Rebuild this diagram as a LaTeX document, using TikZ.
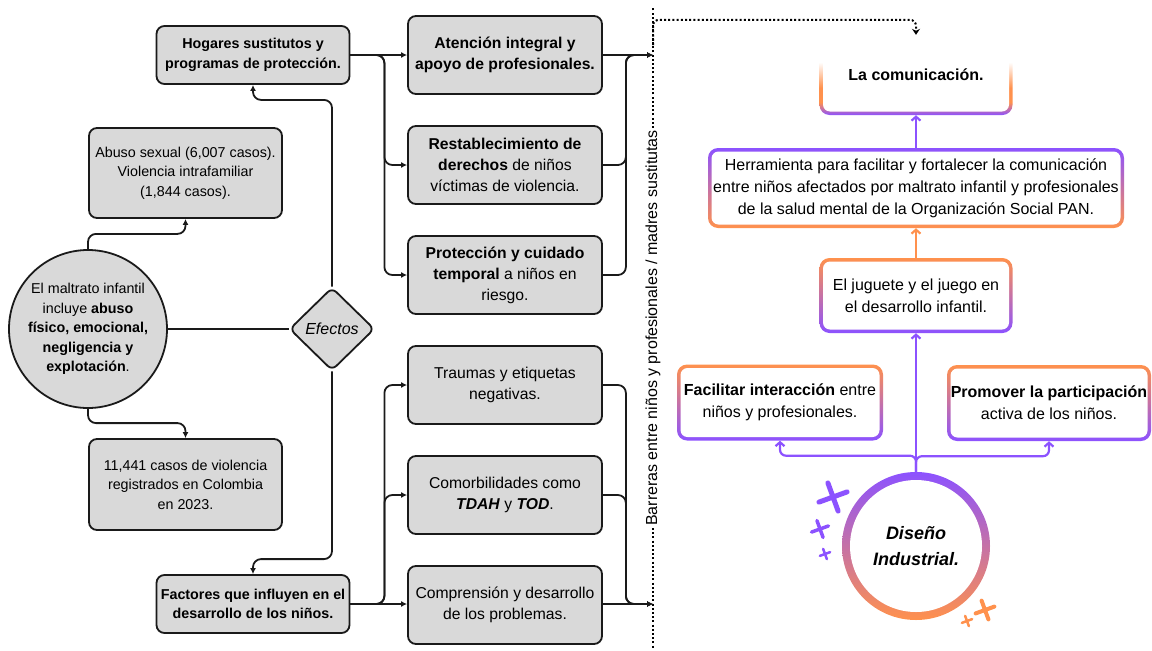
\documentclass[tikz,border=0pt]{standalone}
\usepackage{fontspec}
\setmainfont{Liberation Sans}
\usepackage{xcolor}
\usepackage{tikz}
\usetikzlibrary{arrows.meta,positioning,shapes.geometric,calc}
\definecolor{dipurple}{RGB}{140,82,255}
\definecolor{diorange}{RGB}{255,145,77}
\definecolor{boxgray}{RGB}{217,217,217}
\definecolor{inkgray}{RGB}{26,26,26}
\pgfdeclareverticalshading{comfade}{100bp}{color(0bp)=(dipurple); color(25bp)=(dipurple); color(33bp)=(diorange); color(42bp)=(diorange); color(58bp)=(white); color(100bp)=(white)}
\newcommand{\leftfs}{\fontsize{14.3}{19.5}\selectfont}
\newcommand{\midfs}{\fontsize{15.7}{21}\selectfont}
\newcommand{\rightfs}{\fontsize{16}{22}\selectfont}

\begin{document}
\begin{tikzpicture}[
x=1pt,y=-1pt,
node distance=30.2pt and 30pt,
lbox/.style={draw=inkgray,line width=1.8pt,fill=boxgray,rounded corners=8pt,align=center,inner sep=2pt,text=black,font=\leftfs,minimum width=193pt},
mbox/.style={lbox,font=\midfs,minimum width=194pt,minimum height=78pt},
gbox/.style={rounded corners=10pt,align=center,inner sep=3pt,text=black,font=\rightfs,
  path picture={\fill[white,rounded corners=7pt] ([shift={(3.5pt,-3.5pt)}]path picture bounding box.north west) rectangle ([shift={(-3.5pt,3.5pt)}]path picture bounding box.south east);}},
updown/.style={gbox,top color=diorange,bottom color=dipurple},
downup/.style={gbox,top color=dipurple,bottom color=diorange},
ring/.style={circle,top color=dipurple,bottom color=diorange,align=center,text=black,
  path picture={\fill[white] (path picture bounding box.center) circle (66pt);}},
arr/.style={-{Latex[length=6pt,width=6pt]},line width=1.8pt,draw=inkgray,rounded corners=8pt},
parr/.style={-{Straight Barb[length=4pt,width=9pt]},line width=2.2pt,draw=dipurple,rounded corners=6pt},
oarr/.style={parr,draw=diorange},
dotline/.style={line width=2pt,dash pattern=on 2pt off 2.2pt,draw=black}
]
\useasboundingbox (0,0) rectangle (1152,651);

% left column
\node[lbox,minimum height=58pt,font=\leftfs\bfseries] (hog) at (253,55) {Hogares sustitutos y\\programas de protección.};
\node[lbox,minimum height=90pt] (abu) at (185.5,173) {Abuso sexual (6,007 casos).\\Violencia intrafamiliar\\(1,844 casos).};
\node[lbox,circle,rounded corners=0pt,minimum size=158pt] (mal) at (88,329) {El maltrato infantil\\incluye \textbf{abuso}\\\textbf{físico, emocional,}\\\textbf{negligencia y}\\\textbf{explotación}.};
\node[lbox,minimum height=91pt] (cas) at (185.5,484.5) {11,441 casos de violencia\\registrados en Colombia\\en 2023.};
\node[lbox,minimum height=58pt,font=\leftfs\bfseries] (fac) at (253,604) {Factores que influyen en el\\desarrollo de los niños.};
\node[diamond,draw=inkgray,line width=1.8pt,fill=boxgray,rounded corners=6pt,minimum width=85pt,minimum height=83pt,inner sep=0pt,font=\fontsize{16}{19}\selectfont\itshape] (efe) at (332,329) {Efectos};

% middle column
\node[mbox,font=\midfs\bfseries] (ate) at (505,55) {Atención integral y\\apoyo de profesionales.};
\node[mbox,below=of ate] (res) {\textbf{Restablecimiento de}\\\textbf{derechos} de niños\\víctimas de violencia.};
\node[mbox,below=of res] (pro) {\textbf{Protección y cuidado}\\\textbf{temporal} a niños en\\riesgo.};
\node[mbox,below=of pro] (tra) {Traumas y etiquetas\\negativas.};
\node[mbox,below=of tra] (cmb) {Comorbilidades como\\\textbf{\textit{TDAH}} y \textbf{\textit{TOD}}.};
\node[mbox,below=of cmb] (cpr) {Comprensión y desarrollo\\de los problemas.};

% barrier
\node[rotate=90,fill=white,inner sep=2pt,font=\rightfs] (bar) at (653,328) {Barreras entre niños y profesionales / madres sustitutas};
\coordinate (bartopend) at (653,7);
\coordinate (barbotend) at (653,648);
\coordinate (bart) at (653,55);
\draw[dotline] (bar.east) -- (bartopend);
\draw[dotline] (bar.west) -- (barbotend);

% right side
\node[gbox,shade,shading=comfade,minimum width=193pt,minimum height=80pt,font=\rightfs\bfseries] (com) at (916,75) {La comunicación.};
\node[downup,minimum width=416pt,minimum height=80pt] (her) at (916,188) {Herramienta para facilitar y fortalecer la comunicación\\entre niños afectados por maltrato infantil y profesionales\\de la salud mental de la Organización Social PAN.};
\node[updown,minimum width=193pt,minimum height=75pt] (jug) at (916,295.5) {El juguete y el juego en\\el desarrollo infantil.};
\node[updown,minimum width=206pt,minimum height=76pt] (fin) at (780,402.5) {\textbf{Facilitar interacción} entre\\niños y profesionales.};
\node[updown,minimum width=204pt,minimum height=76pt] (ppa) at (1049,403) {\textbf{Promover la participación}\\activa de los niños.};
\node[ring,minimum size=148pt,font=\fontsize{18}{26}\selectfont\bfseries\itshape] (dis) at (916,546) {Diseño\\Industrial.};

% left connectors
\draw[line width=1.8pt,draw=inkgray] (mal.east) -- (efe.west);
\draw[arr] (mal.north) |- ([yshift=-15pt]abu.south) -- (abu.south);
\draw[arr] (mal.south) |- ([yshift=15pt]cas.north) -- (cas.north);
\draw[arr] (efe.north) |- ([yshift=-15pt]hog.south) -- (hog.south);
\draw[arr] (efe.south) |- ([yshift=15pt]fac.north) -- (fac.north);
\draw[arr] (hog.east) -- (hog.east -| ate.west);
\draw[arr] (hog.east) -- ++(34pt,0) |- (res.west);
\draw[arr] (hog.east) -- ++(34pt,0) |- (pro.west);
\draw[arr] (fac.east) -- (fac.east -| cpr.west);
\draw[arr] (fac.east) -- ++(34pt,0) |- (tra.west);
\draw[arr] (fac.east) -- ++(34pt,0) |- (cmb.west);

% middle connectors
\coordinate (barb) at (bart |- fac.east);
\draw[arr] (ate.east) -- (bart);
\draw[arr] (res.east) -- ++(23pt,0) |- (bart);
\draw[arr] (pro.east) -- ++(23pt,0) |- (bart);
\draw[arr] (tra.east) -- ++(23pt,0) |- (barb);
\draw[arr] (cmb.east) -- ++(23pt,0) |- (barb);
\draw[arr] (cpr.east |- barb) -- (barb);
\draw[dotline,rounded corners=6pt,-{Stealth[length=6pt,width=8pt]}] (653,45) |- ([yshift=15pt]com.north) -- (com.north);

% right connectors
\draw[parr] (her.north) -- (com.south);
\draw[oarr] (jug.north) -- (her.south);
\draw[parr] (dis.north) -- (jug.south);
\draw[parr] (dis.north) |- ([yshift=-15pt]fin.south) -- (fin.south);
\draw[parr] (dis.north) |- ([yshift=-15pt]ppa.south) -- (ppa.south);

% crosses
\foreach \cx/\cy/\cs/\cw/\cc in {833/497/15/5/dipurple,820/529/9/3.5/dipurple,825/554/5.5/2.5/dipurple,985/610/10/4/diorange,967/621/5.5/2.5/diorange}
  \draw[\cc,line width=\cw pt,line cap=round,rotate around={20:(\cx,\cy)}] (\cx-\cs,\cy) -- (\cx+\cs,\cy) (\cx,\cy-\cs) -- (\cx,\cy+\cs);
\end{tikzpicture}
\end{document}
